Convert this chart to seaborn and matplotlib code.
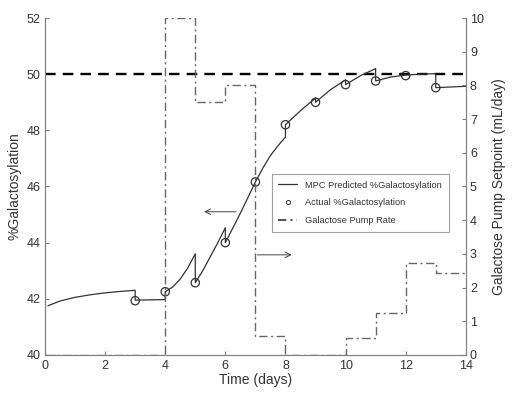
import numpy as np
import pandas as pd
import seaborn as sns
import matplotlib.pyplot as plt
from matplotlib.lines import Line2D

# MPC predicted %galactosylation (vertical jumps at each measurement day)
pred_t = [0.1, 0.5, 1, 1.5, 2, 2.5, 3, 3, 4, 4, 4.25, 4.5, 4.75, 5, 5, 5.25, 5.5, 5.75, 6,
          6, 6.25, 6.5, 6.75, 7, 7.25, 7.5, 7.75, 8, 8, 8.5, 9, 9, 9.5, 10, 10, 10.5, 11,
          11, 11.5, 12, 12.5, 13, 13, 14]
pred_g = [41.75, 41.92, 42.05, 42.14, 42.21, 42.26, 42.3, 41.95, 41.97, 42.25, 42.42, 42.7, 43.1, 43.6,
          42.57, 43.0, 43.5, 44.0, 44.53, 44.0, 44.52, 45.05, 45.6, 46.16, 46.66, 47.1, 47.45, 47.76,
          48.2, 48.7, 49.15, 49.0, 49.45, 49.8, 49.63, 49.95, 50.2, 49.76, 49.9, 49.97, 50.0, 50.02,
          49.52, 49.57]

# measured %galactosylation
meas_t = [3, 4, 5, 6, 7, 8, 9, 10, 11, 12, 13]
meas_g = [41.93, 42.25, 42.57, 44.0, 46.16, 48.2, 49.0, 49.63, 49.76, 49.95, 49.52]

# galactose pump setpoint (step, held until next edge)
pump_t = [0, 4, 5, 6, 7, 8, 10, 11, 12, 13, 14]
pump_rate = [0, 10, 7.5, 8, 0.55, 0, 0.5, 1.25, 2.73, 2.43, 2.43]

target = 50

pred = pd.DataFrame({"t": pred_t, "g": pred_g})
meas = pd.DataFrame({"t": meas_t, "g": meas_g})
pump = pd.DataFrame({"t": pump_t, "rate": pump_rate})

sns.set_style("ticks")
plt.rcParams["font.family"] = ["Liberation Sans", "DejaVu Sans"]
txt = "#333333"
spine = "#808080"

fig = plt.figure(figsize=(5.17, 3.93), dpi=100)
ax = fig.add_axes([0.087, 0.097, 0.814, 0.857])
ax2 = ax.twinx()

pump_style = (0, (6, 2.5, 1.5, 2.5))
sns.lineplot(data=pump, x="t", y="rate", ax=ax2, drawstyle="steps-post", estimator=None,
             sort=False, color="#666666", lw=1, linestyle=pump_style)

ax.axhline(target, color="black", lw=1.7, ls=(0, (4.5, 3)))
sns.lineplot(data=pred, x="t", y="g", ax=ax, estimator=None, sort=False, color="#333333", lw=0.9)
sns.scatterplot(data=meas, x="t", y="g", ax=ax, marker="o", s=36, facecolors="none",
                edgecolor="#333333", linewidth=0.9, zorder=4)

ax.annotate("", xy=(5.2, 45.1), xytext=(6.45, 45.1),
            arrowprops=dict(arrowstyle="->", color="#444444", lw=0.7))
ax2.annotate("", xy=(8.3, 2.97), xytext=(6.97, 2.97),
             arrowprops=dict(arrowstyle="->", color="#444444", lw=0.7))

ax.set_xlim(0, 14)
ax.set_ylim(40, 52)
ax2.set_ylim(0, 10)
ax.set_xticks(range(0, 15, 2))
ax.set_yticks(range(40, 53, 2))
ax2.set_yticks(range(0, 11))

ax.set_xlabel("Time (days)", fontsize=10, color=txt, labelpad=1)
ax.set_ylabel("%Galactosylation", fontsize=10, color=txt, labelpad=4)
ax2.set_ylabel("Galactose Pump Setpoint (mL/day)", fontsize=10, color=txt, labelpad=6)

for a in (ax, ax2):
    a.tick_params(direction="in", length=3, width=0.8, colors=spine, labelcolor=txt, labelsize=9)
    a.spines["top"].set_visible(False)
    for s in ("left", "right", "bottom"):
        a.spines[s].set_color(spine)
        a.spines[s].set_linewidth(0.8)
ax.tick_params(axis="y", pad=3)
ax2.tick_params(axis="y", pad=3)

handles = [
    Line2D([], [], color="#333333", lw=0.9),
    Line2D([], [], color="#333333", marker="o", markersize=3, markerfacecolor="none",
           markeredgewidth=0.7, ls="none"),
    Line2D([], [], color="#333333", lw=1.2, ls=(0, (5, 2.5, 1.2, 2.5, 1.2, 2.5))),
]
labels = ["MPC Predicted %Galactosylation", "Actual %Galactosylation", "Galactose Pump Rate"]
leg = ax2.legend(handles, labels, loc="upper left", bbox_to_anchor=(0.539, 0.537),
                 borderaxespad=0, fontsize=6.7, frameon=True, fancybox=False, handlelength=2.0,
                 borderpad=0.7, labelspacing=0.95, handletextpad=0.9)
leg.get_frame().set_edgecolor("#888888")
leg.get_frame().set_linewidth(0.8)
for t in leg.get_texts():
    t.set_color(txt)

fig.savefig("out.png", dpi=100)
